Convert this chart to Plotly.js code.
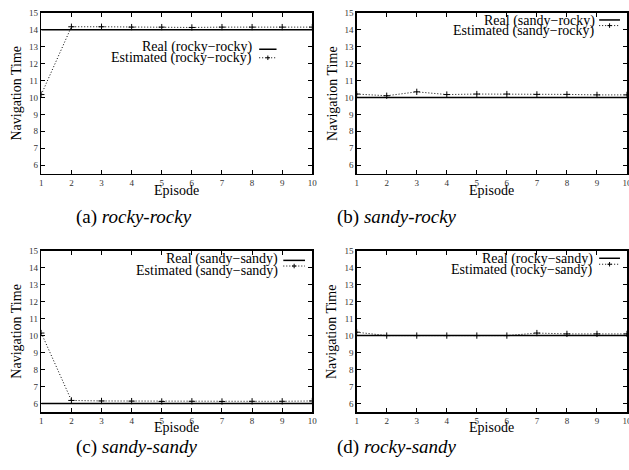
<!DOCTYPE html>
<html>
<head>
<meta charset="utf-8">
<script src="https://cdn.plot.ly/plotly-3.0.1.min.js"></script>
<style>html,body{margin:0;padding:0;background:#fff;}#chart{width:629px;height:470px;}</style>
</head>
<body>
<div id="chart"></div>
<script>
// ---- data ----
const episodes = [1, 2, 3, 4, 5, 6, 7, 8, 9, 10];

const realRockyRocky = [14.0, 14.0, 14.0, 14.0, 14.0, 14.0, 14.0, 14.0, 14.0, 14.0];
const estRockyRocky  = [10.17, 14.17, 14.17, 14.15, 14.15, 14.13, 14.15, 14.15, 14.15, 14.15];

const realSandyRocky = [10.0, 10.0, 10.0, 10.0, 10.0, 10.0, 10.0, 10.0, 10.0, 10.0];
const estSandyRocky  = [10.2, 10.1, 10.33, 10.17, 10.2, 10.2, 10.18, 10.18, 10.15, 10.15];

const realSandySandy = [6.0, 6.0, 6.0, 6.0, 6.0, 6.0, 6.0, 6.0, 6.0, 6.0];
const estSandySandy  = [10.15, 6.18, 6.15, 6.14, 6.12, 6.13, 6.12, 6.13, 6.13, 6.15];

const realRockySandy = [10.0, 10.0, 10.0, 10.0, 10.0, 10.0, 10.0, 10.0, 10.0, 10.0];
const estRockySandy  = [10.2, 10.0, 10.0, 10.0, 10.0, 10.0, 10.15, 10.1, 10.1, 10.1];

const panelNames = ['rocky\u2212rocky', 'sandy\u2212rocky', 'sandy\u2212sandy', 'rocky\u2212sandy'];
const captions = ['(a) <i>rocky-rocky</i>', '(b) <i>sandy-rocky</i>', '(c) <i>sandy-sandy</i>', '(d) <i>rocky-sandy</i>'];
const xTitle = 'Episode';
const yTitle = 'Navigation Time';
const yTicks = [6, 7, 8, 9, 10, 11, 12, 13, 14, 15];

// ---- layout helpers ----
const W = 629, H = 470;
const FONT = 'Liberation Serif';
const DOT = '1px,2px';
const panels = [
  {real: realRockyRocky, est: estRockyRocky, x0: 41.3, x1: 312.3, y0: 12.7, y1: 173.7, xt: 190,
   leg: {tx: 0.785, sx0: 0.804, sx1: 0.868, ry: 0.79, ey: 0.72, sy: 0.773, dy: 0.72}, cap: [134, 217]},
  {real: realSandyRocky, est: estSandyRocky, x0: 356.7, x1: 627, y0: 12.7, y1: 173.7, xt: 190,
   leg: {tx: 0.888, sx0: 0.897, sx1: 0.974, ry: 0.947, ey: 0.885, sy: 0.955, dy: 0.92}, cap: [397, 217]},
  {real: realSandySandy, est: estSandySandy, x0: 41.3, x1: 312.3, y0: 250.7, y1: 412, xt: 427,
   leg: {tx: 0.881, sx0: 0.893, sx1: 0.973, ry: 0.947, ey: 0.875, sy: 0.94, dy: 0.905}, cap: [136, 447]},
  {real: realRockySandy, est: estRockySandy, x0: 356.7, x1: 627, y0: 250.7, y1: 412, xt: 427,
   leg: {tx: 0.881, sx0: 0.897, sx1: 0.974, ry: 0.947, ey: 0.882, sy: 0.953, dy: 0.916}, cap: [397, 447]}
];

const traces = [];
const layout = {
  width: W, height: H,
  margin: {l: 0, r: 0, t: 0, b: 0},
  paper_bgcolor: '#fff', plot_bgcolor: '#fff',
  showlegend: false,
  font: {family: FONT, color: '#000'},
  annotations: [], shapes: []
};

panels.forEach((p, i) => {
  const n = i + 1;
  const xa = n === 1 ? 'x' : 'x' + n;
  const ya = n === 1 ? 'y' : 'y' + n;
  const xk = n === 1 ? 'xaxis' : 'xaxis' + n;
  const yk = n === 1 ? 'yaxis' : 'yaxis' + n;

  traces.push({x: episodes, y: p.real, xaxis: xa, yaxis: ya, mode: 'lines',
    line: {color: '#000', width: 1.5}, name: 'Real (' + panelNames[i] + ')'});
  traces.push({x: episodes, y: p.est, xaxis: xa, yaxis: ya, mode: 'lines+markers',
    line: {color: '#000', width: 1, dash: DOT},
    marker: {symbol: 'cross-thin', size: 4.5, line: {color: '#000', width: 1}},
    name: 'Estimated (' + panelNames[i] + ')'});

  const common = {
    showline: true, linecolor: '#000', linewidth: 1.5, mirror: 'allticks',
    ticks: 'inside', ticklen: 4, tickwidth: 1, tickcolor: '#000',
    showgrid: false, zeroline: false, fixedrange: true,
    ticklabeloverflow: 'allow',
    tickfont: {family: FONT, size: 9, color: '#333'}
  };
  layout[xk] = Object.assign({}, common, {
    domain: [p.x0 / W, p.x1 / W], anchor: ya,
    range: [1, 10], tickmode: 'array', tickvals: episodes
  });
  layout[yk] = Object.assign({}, common, {
    domain: [1 - p.y1 / H, 1 - p.y0 / H], anchor: xa,
    range: [5.5, 15], tickmode: 'array', tickvals: yTicks
  });

  // axis titles
  layout.annotations.push({text: xTitle, xref: 'paper', yref: 'paper',
    x: (p.x0 + p.x1) / 2 / W, y: 1 - p.xt / H, showarrow: false,
    xanchor: 'center', yanchor: 'middle', font: {family: FONT, size: 14, color: '#000'}});
  layout.annotations.push({text: yTitle, xref: 'paper', yref: 'paper', textangle: -90,
    x: (p.x0 - 25) / W, y: 1 - (p.y0 + p.y1) / 2 / H, showarrow: false,
    xanchor: 'center', yanchor: 'middle', font: {family: FONT, size: 14, color: '#000'}});

  // key (gnuplot style: text then sample on the right)
  const xd = xa + ' domain', yd = ya + ' domain';
  layout.annotations.push({text: 'Real (' + panelNames[i] + ')', xref: xd, yref: yd,
    x: p.leg.tx, y: p.leg.ry, xanchor: 'right', yanchor: 'middle', showarrow: false,
    font: {family: FONT, size: 14, color: '#000'}});
  layout.annotations.push({text: 'Estimated (' + panelNames[i] + ')', xref: xd, yref: yd,
    x: p.leg.tx, y: p.leg.ey, xanchor: 'right', yanchor: 'middle', showarrow: false,
    font: {family: FONT, size: 14, color: '#000'}});
  layout.shapes.push({type: 'line', xref: xd, yref: yd, x0: p.leg.sx0, x1: p.leg.sx1,
    y0: p.leg.sy, y1: p.leg.sy, line: {color: '#000', width: 1.5}});
  layout.shapes.push({type: 'line', xref: xd, yref: yd, x0: p.leg.sx0, x1: p.leg.sx1,
    y0: p.leg.dy, y1: p.leg.dy, line: {color: '#000', width: 1, dash: DOT}});
  const mx = (p.leg.sx0 + p.leg.sx1) / 2;
  layout.shapes.push({type: 'line', xref: xd, yref: yd, x0: mx - 0.008, x1: mx + 0.008,
    y0: p.leg.dy, y1: p.leg.dy, line: {color: '#000', width: 1}});
  layout.shapes.push({type: 'line', xref: xd, yref: yd, x0: mx, x1: mx,
    y0: p.leg.dy - 0.014, y1: p.leg.dy + 0.014, line: {color: '#000', width: 1}});

  // caption
  layout.annotations.push({text: captions[i], xref: 'paper', yref: 'paper',
    x: p.cap[0] / W, y: 1 - p.cap[1] / H, xanchor: 'center', yanchor: 'middle',
    showarrow: false, font: {family: FONT, size: 19, color: '#000'}});
});

Plotly.newPlot('chart', traces, layout, {staticPlot: true, displayModeBar: false});
</script>
</body>
</html>
